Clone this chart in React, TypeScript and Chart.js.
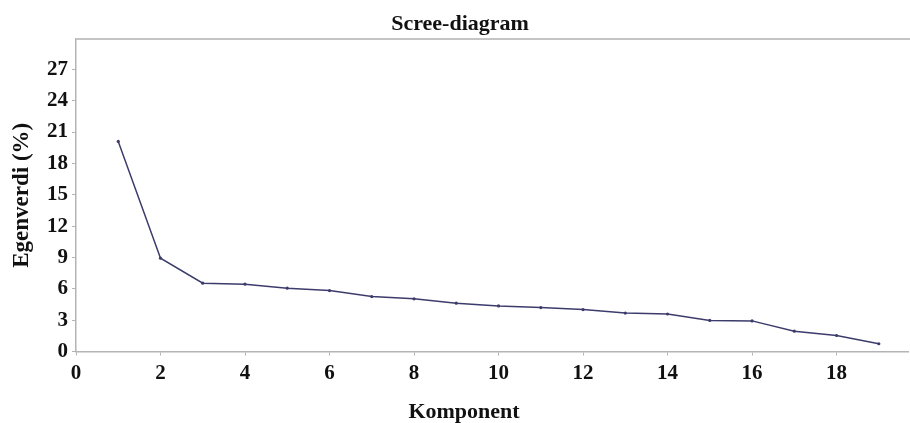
import React, { useEffect, useRef } from "react";
import { Chart, registerables } from "chart.js";

Chart.register(...registerables);

const components = [1, 2, 3, 4, 5, 6, 7, 8, 9, 10, 11, 12, 13, 14, 15, 16, 17, 18, 19];
const eigenvalues = [20.1, 8.93, 6.54, 6.44, 6.06, 5.83, 5.26, 5.04, 4.62, 4.36, 4.2, 4.01, 3.68, 3.59, 2.97, 2.93, 1.94, 1.53, 0.74];
const xTickValues = [0, 2, 4, 6, 8, 10, 12, 14, 16, 18];
const yTickValues = [0, 3, 6, 9, 12, 15, 18, 21, 24, 27];
const chartTitle = "Scree-diagram";
const xTitle = "Komponent";
const yTitle = "Egenverdi (%)";

const FONT = '"Liberation Serif", "Times New Roman", serif';
const AXIS_GRAY = "#b4b4b4";
const LINE_COLOR = "#3c3c6c";

const textPlugin = {
  id: "screeTexts",
  afterDraw(chart: any) {
    const ctx = chart.ctx;
    const area = chart.chartArea;
    ctx.save();
    // top frame line
    ctx.strokeStyle = "#c4c4c4";
    ctx.lineWidth = 2;
    ctx.beginPath();
    ctx.moveTo(area.left, area.top);
    ctx.lineTo(chart.width, area.top);
    ctx.stroke();
    // titles
    ctx.fillStyle = "#111111";
    ctx.font = `bold 22px ${FONT}`;
    ctx.textAlign = "center";
    ctx.textBaseline = "alphabetic";
    ctx.fillText(chartTitle, chart.width / 2 + 5, 30);
    ctx.fillText(xTitle, chart.width / 2 + 9, 418);
    ctx.restore();
  },
};

export default function App() {
  const canvasRef = useRef<HTMLCanvasElement | null>(null);

  useEffect(() => {
    if (!canvasRef.current) return;
    const chart = new Chart(canvasRef.current, {
      type: "line",
      data: {
        datasets: [
          {
            label: "Egenverdi",
            data: components.map((c, i) => ({ x: c, y: eigenvalues[i] })),
            borderColor: LINE_COLOR,
            backgroundColor: LINE_COLOR,
            borderWidth: 1.5,
            pointRadius: 1.6,
            pointHoverRadius: 1.6,
            pointBorderWidth: 0,
            tension: 0,
          },
        ],
      },
      options: {
        responsive: false,
        animation: false,
        layout: { padding: { top: 39, right: 0, left: 0, bottom: 0 } },
        plugins: {
          legend: { display: false },
          title: { display: false },
          tooltip: { enabled: false },
        },
        scales: {
          x: {
            type: "linear",
            min: 0,
            max: 19.7,
            afterBuildTicks: (s: any) => {
              s.ticks = xTickValues.map((v) => ({ value: v }));
            },
            afterFit: (s: any) => {
              s.height = 71.5;
            },
            grid: {
              drawOnChartArea: false,
              drawTicks: true,
              tickLength: 4,
              color: AXIS_GRAY,
            },
            border: { display: true, color: AXIS_GRAY, width: 1.5 },
            ticks: {
              padding: 5,
              color: "#111111",
              font: { family: FONT, size: 21, weight: "bold" },
              maxRotation: 0,
              autoSkip: false,
            },
          },
          y: {
            type: "linear",
            min: 0,
            max: 29.9,
            afterBuildTicks: (s: any) => {
              s.ticks = yTickValues.map((v) => ({ value: v }));
            },
            afterFit: (s: any) => {
              s.width = 76;
            },
            grid: {
              drawOnChartArea: false,
              drawTicks: true,
              tickLength: 4,
              color: AXIS_GRAY,
            },
            border: { display: true, color: AXIS_GRAY, width: 1.5 },
            ticks: {
              padding: 4,
              color: "#111111",
              font: { family: FONT, size: 21, weight: "bold" },
              autoSkip: false,
            },
            title: {
              display: true,
              text: yTitle,
              color: "#111111",
              font: { family: FONT, size: 23, weight: "bold" },
              padding: { top: 8, bottom: 0 },
            },
          },
        },
      },
      plugins: [textPlugin],
    });
    return () => chart.destroy();
  }, []);

  return (
    <div style={{ position: "absolute", left: 0, top: 0, width: 910, height: 423, background: "#ffffff" }}>
      <canvas ref={canvasRef} width={910} height={423} />
    </div>
  );
}
